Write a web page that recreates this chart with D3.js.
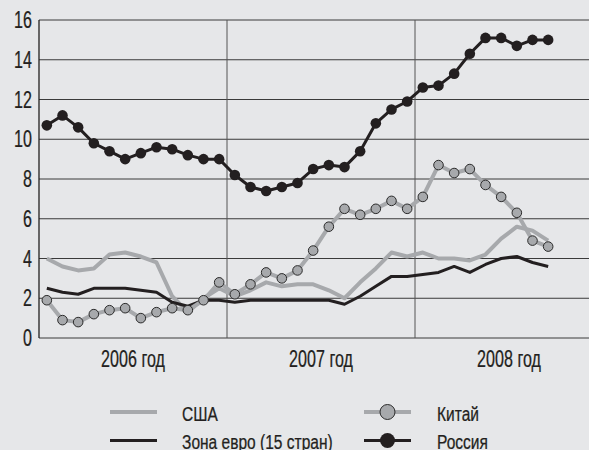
<!DOCTYPE html>
<html>
<head>
<meta charset="utf-8">
<script src="https://cdn.jsdelivr.net/npm/d3@7"></script>
<style>
  body { margin: 0; background: #e6e7e9; }
  svg { display: block; }
  text { font-family: "Liberation Sans", Arial, sans-serif; fill: #231f20; stroke: #231f20; stroke-width: 0.25; }
</style>
</head>
<body>
<svg width="589" height="450"></svg>
<script>
// years & month slots (Jan 2006 .. Sep 2008)
const years = ["2006 год", "2007 год", "2008 год"];
const yTicks = [0, 2, 4, 6, 8, 10, 12, 14, 16];

// inflation, % yoy
const usa = [4.0, 3.6, 3.4, 3.5, 4.2, 4.3, 4.1, 3.8, 2.1, 1.3, 2.0, 2.5,
  2.1, 2.4, 2.8, 2.6, 2.7, 2.7, 2.4, 2.0, 2.8, 3.5, 4.3, 4.1,
  4.3, 4.0, 4.0, 3.9, 4.2, 5.0, 5.6, 5.4, 4.9];
const euro = [2.5, 2.3, 2.2, 2.5, 2.5, 2.5, 2.4, 2.3, 1.8, 1.6, 1.9, 1.9,
  1.8, 1.9, 1.9, 1.9, 1.9, 1.9, 1.9, 1.7, 2.1, 2.6, 3.1, 3.1,
  3.2, 3.3, 3.6, 3.3, 3.7, 4.0, 4.1, 3.8, 3.6];
const china = [1.9, 0.9, 0.8, 1.2, 1.4, 1.5, 1.0, 1.3, 1.5, 1.4, 1.9, 2.8,
  2.2, 2.7, 3.3, 3.0, 3.4, 4.4, 5.6, 6.5, 6.2, 6.5, 6.9, 6.5,
  7.1, 8.7, 8.3, 8.5, 7.7, 7.1, 6.3, 4.9, 4.6];
const russia = [10.7, 11.2, 10.6, 9.8, 9.4, 9.0, 9.3, 9.6, 9.5, 9.2, 9.0, 9.0,
  8.2, 7.6, 7.4, 7.6, 7.8, 8.5, 8.7, 8.6, 9.4, 10.8, 11.5, 11.9,
  12.6, 12.7, 13.3, 14.3, 15.1, 15.1, 14.7, 15.0, 15.0];

const legendNames = ["США", "Зона евро (15 стран)", "Китай", "Россия"];

const svg = d3.select("svg");
const plotLeft = 39, plotTop = 20, plotBottom = 338;
const squeeze = 0.7; // condensed look

// x in months, 12 per year
const x = d3.scaleLinear().domain([0, 36]).range([plotLeft, plotLeft + 36 * 188 / 12]);
const y = d3.scaleLinear().domain([0, 16]).range([plotBottom, plotTop]);

const gray = "#a7a9ac", black = "#231f20";

// horizontal grid
svg.append("g")
  .selectAll("line")
  .data(yTicks)
  .join("line")
  .attr("x1", plotLeft).attr("x2", 589)
  .attr("y1", (d) => y(d)).attr("y2", (d) => y(d))
  .attr("stroke", "#3a3a3a")
  .attr("stroke-width", 1);

// year separators
svg.append("g")
  .selectAll("line")
  .data([12, 24])
  .join("line")
  .attr("x1", (d) => x(d)).attr("x2", (d) => x(d))
  .attr("y1", plotTop).attr("y2", plotBottom)
  .attr("stroke", "#555")
  .attr("stroke-width", 1);

svg.append("line")
  .attr("x1", plotLeft).attr("x2", plotLeft)
  .attr("y1", plotTop).attr("y2", plotBottom)
  .attr("stroke", "#231f20").attr("stroke-width", 1.3);

// y labels
svg.append("g")
  .selectAll("text")
  .data(yTicks)
  .join("text")
  .attr("transform", (d) => `translate(32,${y(d) + 8}) scale(${squeeze},1)`)
  .attr("text-anchor", "end")
  .attr("font-size", 23)
  .text((d) => d);

// x labels
svg.append("g")
  .selectAll("text")
  .data(years)
  .join("text")
  .attr("transform", (d, i) => `translate(${x(i * 12 + 6)},367) scale(${squeeze},1)`)
  .attr("text-anchor", "middle")
  .attr("font-size", 23)
  .text((d) => d);

const line = d3.line()
  .x((d, i) => x(i + 0.5))
  .y((d) => y(d));

svg.append("path").datum(usa)
  .attr("d", line).attr("fill", "none")
  .attr("stroke", gray).attr("stroke-width", 4).attr("stroke-linejoin", "round");

svg.append("path").datum(euro)
  .attr("d", line).attr("fill", "none")
  .attr("stroke", black).attr("stroke-width", 3).attr("stroke-linejoin", "round");

svg.append("path").datum(china)
  .attr("d", line).attr("fill", "none")
  .attr("stroke", gray).attr("stroke-width", 4).attr("stroke-linejoin", "round");

svg.append("g")
  .selectAll("circle")
  .data(china)
  .join("circle")
  .attr("cx", (d, i) => x(i + 0.5))
  .attr("cy", (d) => y(d))
  .attr("r", 4.8)
  .attr("fill", gray)
  .attr("stroke", "#2b2b2b")
  .attr("stroke-width", 1);

svg.append("path").datum(russia)
  .attr("d", line).attr("fill", "none")
  .attr("stroke", black).attr("stroke-width", 3).attr("stroke-linejoin", "round");

svg.append("g")
  .selectAll("circle")
  .data(russia)
  .join("circle")
  .attr("cx", (d, i) => x(i + 0.5))
  .attr("cy", (d) => y(d))
  .attr("r", 5.3)
  .attr("fill", black);

// legend
const legend = [
  { name: legendNames[0], col: 0, row: 0, color: gray, w: 4, marker: false },
  { name: legendNames[1], col: 0, row: 1, color: black, w: 3, marker: false },
  { name: legendNames[2], col: 1, row: 0, color: gray, w: 4, marker: true },
  { name: legendNames[3], col: 1, row: 1, color: black, w: 3, marker: true },
];

const lg = svg.append("g")
  .selectAll("g")
  .data(legend)
  .join("g")
  .attr("transform", (d) => `translate(${d.col ? 364 : 110},${d.row ? 440.5 : 412})`);

lg.append("line")
  .attr("x1", 0).attr("x2", 47)
  .attr("stroke", (d) => d.color)
  .attr("stroke-width", (d) => d.w);

lg.filter((d) => d.marker)
  .append("circle")
  .attr("cx", 23.5)
  .attr("r", 7.5)
  .attr("fill", (d) => d.color)
  .attr("stroke", "#2b2b2b")
  .attr("stroke-width", (d) => (d.color === gray ? 1 : 0));

lg.append("text")
  .attr("transform", (d) => `translate(${d.col ? 73 : 72},${d.row ? 8.5 : 9}) scale(0.74,1)`)
  .attr("font-size", 21)
  .text((d) => d.name);
</script>
</body>
</html>
